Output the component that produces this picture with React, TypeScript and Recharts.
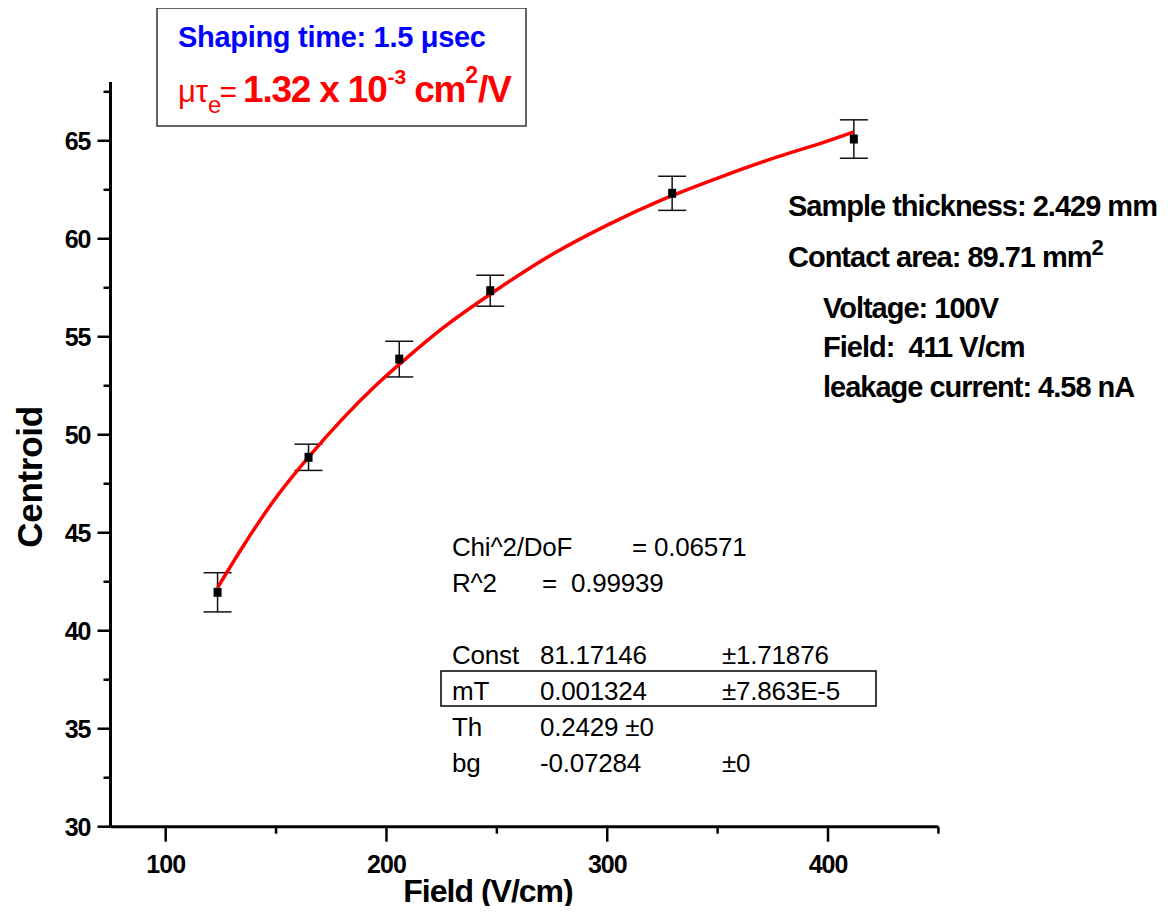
import React from 'react';
import { ComposedChart, Line, Scatter, XAxis, YAxis, ErrorBar } from 'recharts';

// measured points (Field in V/cm, Centroid in channels)
const fieldValues = [123.5, 164.7, 205.8, 247.0, 329.4, 411.7];
const centroidValues = [41.96, 48.85, 53.86, 57.35, 62.32, 65.09];
const centroidErrors = [1.0, 0.67, 0.91, 0.79, 0.87, 0.98];

// red fit curve
const fitField = [123.5, 135, 150, 165, 180, 195, 210, 225, 250, 275, 300, 325, 350, 375, 400, 411.7];
const fitCentroid = [42.2, 44.3, 46.8, 48.9, 50.8, 52.5, 54.0, 55.4, 57.4, 59.2, 60.7, 62.0, 63.1, 64.1, 65.0, 65.45];

const xTicks = [100, 150, 200, 250, 300, 350, 400, 450];
const xLabels = [100, 200, 300, 400];
const yTicks = [30, 32.5, 35, 37.5, 40, 42.5, 45, 47.5, 50, 52.5, 55, 57.5, 60, 62.5, 65, 67.5];
const yLabels = [30, 35, 40, 45, 50, 55, 60, 65];

const statsRows = [
  ['Const', '81.17146', '±1.71876'],
  ['mT', '0.001324', '±7.863E-5'],
  ['Th', '0.2429 ±0', ''],
  ['bg', '-0.07284', '±0'],
];

const sampleInfo = [
  'Sample thickness: 2.429 mm',
  'Contact area: 89.71 mm',
  'Voltage: 100V',
  'Field:\u00a0 411 V/cm',
  'leakage current: 4.58 nA',
];

const points = fieldValues.map((x, i) => ({ x, y: centroidValues[i], err: centroidErrors[i] }));
const fit = fitField.map((x, i) => ({ x, y: fitCentroid[i] }));

const font = "'Liberation Sans', Arial, sans-serif";

const XTick = (props: any) => {
  const { x, y, payload } = props;
  const major = xLabels.includes(payload.value);
  return (
    <g>
      <line x1={x} x2={x} y1={y} y2={y + (major ? 15 : 7)} stroke="#000" strokeWidth={2.5} />
      {major && (
        <text x={x} y={y + 46} textAnchor="middle" fontFamily={font} fontWeight="bold" fontSize={25} letterSpacing={-1} fill="#000">
          {payload.value}
        </text>
      )}
    </g>
  );
};

const YTick = (props: any) => {
  const { x, y, payload } = props;
  const major = yLabels.includes(payload.value);
  return (
    <g>
      <line x1={x - (major ? 13 : 7)} x2={x} y1={y} y2={y} stroke="#000" strokeWidth={2.5} />
      {major && (
        <text x={x - 20} y={y + 9} textAnchor="end" fontFamily={font} fontWeight="bold" fontSize={25} letterSpacing={-1} fill="#000">
          {payload.value}
        </text>
      )}
    </g>
  );
};

const Square = (props: any) => {
  const { cx, cy } = props;
  return <rect x={cx - 4} y={cy - 4.5} width={8} height={9} fill="#000" />;
};

export default function App() {
  return (
    <div style={{ position: 'relative', width: 1156, height: 898 }}>
      <ComposedChart
        width={1156}
        height={898}
        margin={{ top: 74, right: 225.6, bottom: 19.3, left: 12.5 }}
      >
        <XAxis
          dataKey="x"
          type="number"
          domain={[75, 450]}
          ticks={xTicks}
          interval={0}
          allowDataOverflow
          tickSize={0}
          tickMargin={0}
          tickLine={false}
          height={60}
          axisLine={{ stroke: '#000', strokeWidth: 3 }}
          tick={<XTick />}
        />
        <YAxis
          dataKey="y"
          type="number"
          domain={[30, 68]}
          ticks={yTicks}
          interval={0}
          allowDataOverflow
          tickSize={0}
          tickMargin={0}
          tickLine={false}
          width={90}
          axisLine={{ stroke: '#000', strokeWidth: 3 }}
          tick={<YTick />}
        />
        <Scatter data={points} dataKey="y" shape={<Square />} isAnimationActive={false}>
          <ErrorBar dataKey="err" direction="y" width={14} stroke="#111" strokeWidth={1.5} />
        </Scatter>
        <Line
          data={fit}
          dataKey="y"
          type="monotone"
          stroke="#ff0000"
          strokeWidth={3.5}
          dot={false}
          activeDot={false}
          isAnimationActive={false}
        />
      </ComposedChart>

      <svg
        width={1156}
        height={906}
        style={{ position: 'absolute', left: 0, top: 0, pointerEvents: 'none', overflow: 'visible' }}
        fontFamily={font}
      >
        {/* axis titles */}
        <text x={480} y={894} textAnchor="middle" fontWeight="bold" fontSize={32} letterSpacing={-1}>
          Field (V/cm)
        </text>
        <text
          transform="translate(34,469) rotate(-90)"
          textAnchor="middle"
          fontWeight="bold"
          fontSize={35}
          letterSpacing={-0.3}
        >
          Centroid
        </text>

        {/* parameter box */}
        <rect x={149} y={0} width={369} height={118} fill="#fff" stroke="#333" strokeWidth={1.5} />
        <text x={170} y={39} fontWeight="bold" fontSize={29} letterSpacing={-0.3} fill="#0000ff">
          Shaping time: 1.5 μsec
        </text>
        <text x={170} y={94} fill="#ff0000">
          <tspan fontSize={31}>μτ</tspan>
          <tspan fontSize={24} dy={11}>e</tspan>
          <tspan fontSize={30} dy={-11} dx={-2}>=</tspan>
          <tspan fontSize={37} fontWeight="bold" dx={6} letterSpacing={-1.2}>1.32 x 10</tspan>
          <tspan fontSize={21} fontWeight="bold" dy={-18} dx={1}>-3</tspan>
          <tspan fontSize={37} fontWeight="bold" dy={18} dx={8} letterSpacing={-1.2}>cm</tspan>
          <tspan fontSize={23} fontWeight="bold" dy={-19}>2</tspan>
          <tspan fontSize={37} fontWeight="bold" dy={19} letterSpacing={-1.2}>/V</tspan>
        </text>

        {/* sample description */}
        <g fontWeight="bold" fontSize={29} letterSpacing={-1} fill="#000">
          <text x={780} y={208}>{sampleInfo[0]}</text>
          <text x={780} y={259}>
            {sampleInfo[1]}
            <tspan fontSize={22} dy={-12}>2</tspan>
          </text>
          <text x={815} y={310}>{sampleInfo[2]}</text>
          <text x={815} y={349}>{sampleInfo[3]}</text>
          <text x={815} y={389}>{sampleInfo[4]}</text>
        </g>

        {/* fit statistics */}
        <g fontSize={26} letterSpacing={-0.2} fill="#000">
          <text x={444} y={548}>Chi^2/DoF</text>
          <text x={624} y={548}>= 0.06571</text>
          <text x={444} y={584}>R^2</text>
          <text x={534} y={584}>{'=\u00a0 0.99939'}</text>
          {statsRows.map((row, i) => (
            <g key={row[0]}>
              <text x={444} y={656 + i * 36}>{row[0]}</text>
              <text x={532} y={656 + i * 36}>{row[1]}</text>
              <text x={714} y={656 + i * 36}>{row[2]}</text>
            </g>
          ))}
          <rect x={433} y={663} width={435} height={35} fill="none" stroke="#000" strokeWidth={1.5} />
        </g>
      </svg>
    </div>
  );
}
